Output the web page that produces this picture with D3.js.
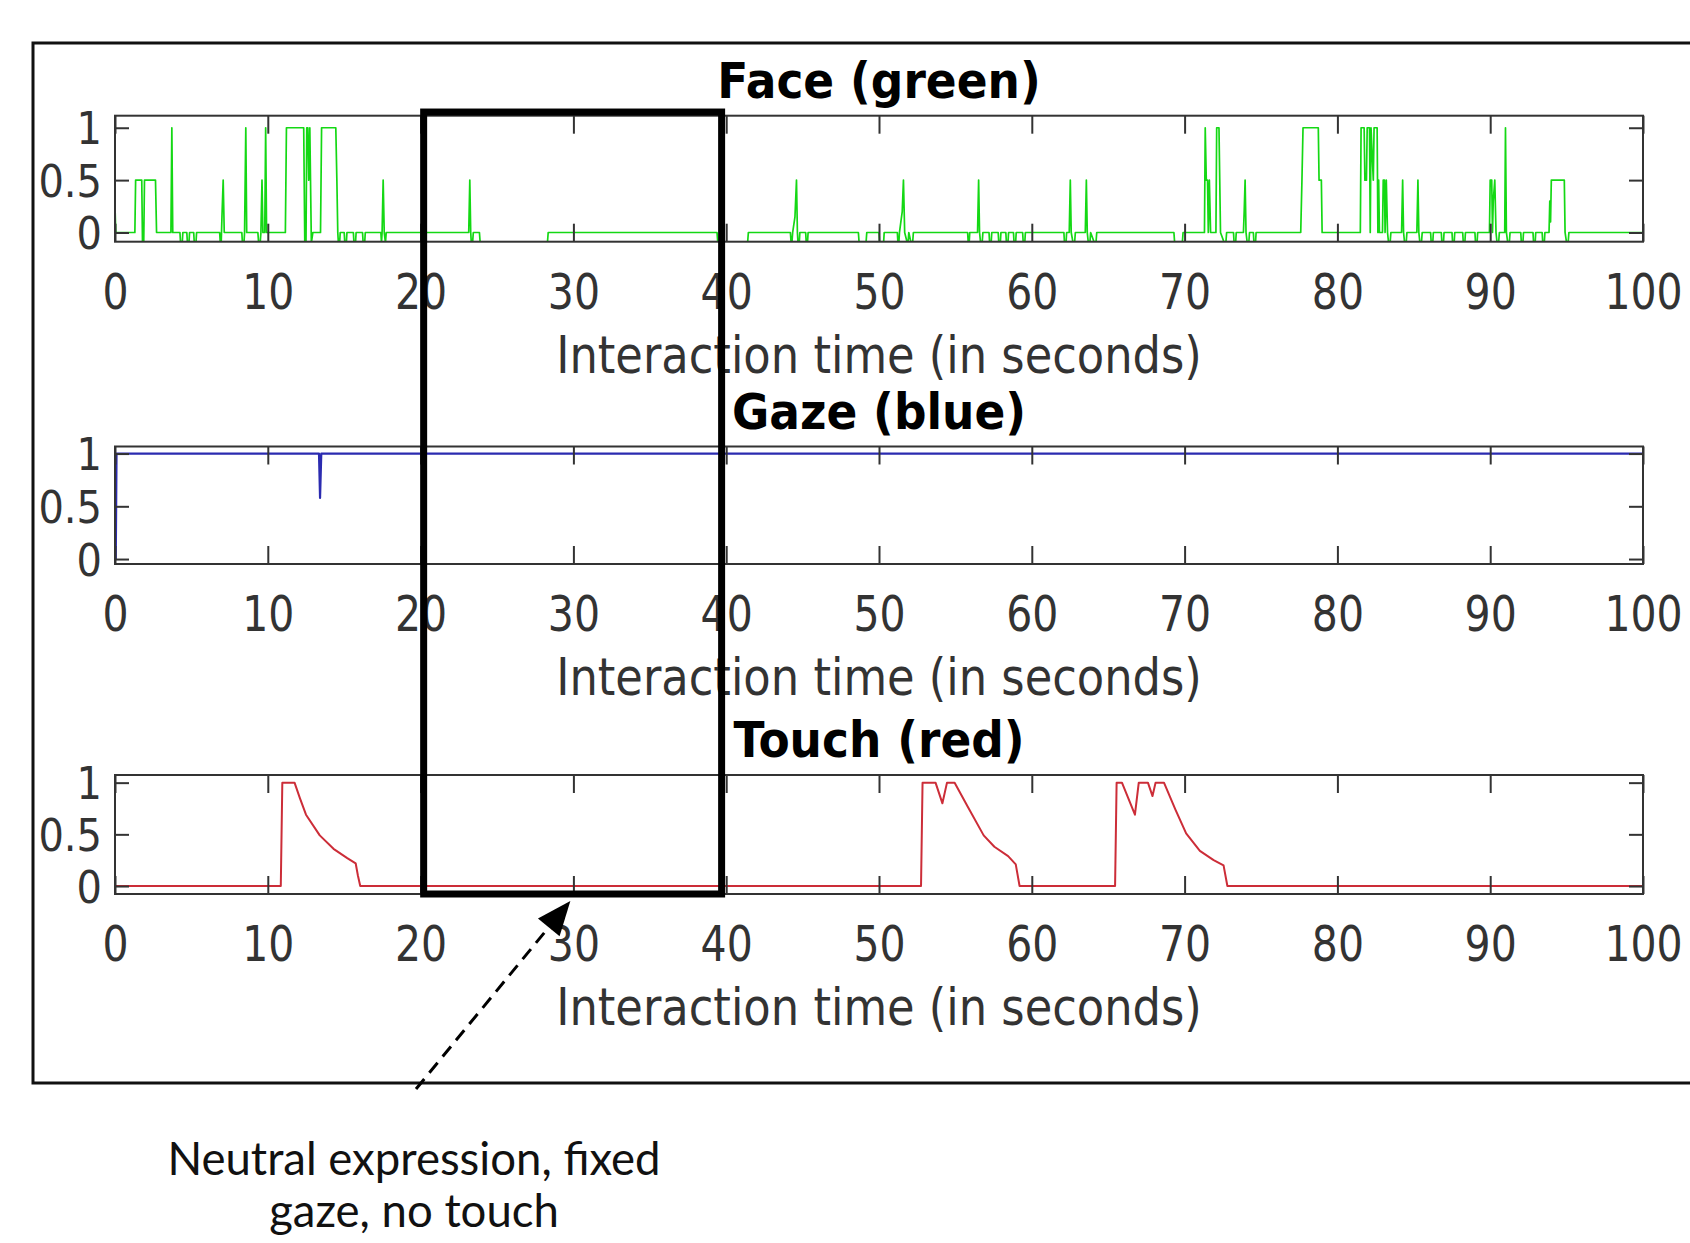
<!DOCTYPE html>
<html lang="en">
<head>
<meta charset="UTF-8">
<title>Face / Gaze / Touch</title>
<style>
  body { margin: 0; background: #fff; }
  svg { display: block; }
</style>
</head>
<body>
<div id="chart"></div>
<script src="https://cdn.jsdelivr.net/npm/d3@7"></script>
<script>
const width = 1690, height = 1243;

// axis labels / ticks
const xTicks = [0, 10, 20, 30, 40, 50, 60, 70, 80, 90, 100];
const yTicks = [0, 0.5, 1];
const titles = ["Face (green)", "Gaze (blue)", "Touch (red)"];
const xLabel = "Interaction time (in seconds)";
const yLimits = [[-0.088, 1.115], [-0.047, 1.067], [-0.077, 1.074]];

// [seconds, value]  (-0.1 = nothing detected)
const faceSeries = [
    [0, 0.25], [0.05, 0],
    [1.3, 0], [1.35, 0.5], [1.75, 0.5], [1.8, -0.1], [1.88, -0.1], [1.93, 0.5], [2.65, 0.5], [2.72, 0],
    [3.66, 0], [3.72, 1], [3.78, 0],
    [4.25, 0], [4.29, -0.1], [4.4, -0.1], [4.44, 0],
    [4.7, 0], [4.74, -0.1], [4.84, -0.1], [4.88, 0],
    [5.15, 0], [5.19, -0.1], [5.3, -0.1], [5.34, 0],
    [6.85, 0], [6.89, -0.1], [6.95, -0.1], [7.0, 0.15], [7.08, 0.5], [7.15, 0],
    [8.3, 0], [8.34, -0.1], [8.44, -0.1], [8.48, 0], [8.56, 1], [8.62, 0],
    [9.35, 0], [9.4, -0.1], [9.5, -0.1], [9.55, 0], [9.62, 0.5], [9.68, 0], [9.8, 0], [9.86, 1], [9.92, 0],
    [11.15, 0], [11.22, 1], [12.35, 1], [12.42, -0.1], [12.5, -0.1], [12.55, 1], [12.62, 1], [12.68, 0.5],
    [12.75, 1], [12.85, -0.1], [12.95, 0],
    [13.45, 0], [13.52, 1], [14.45, 1], [14.52, 0.5], [14.58, 0], [14.62, -0.1], [14.7, -0.1], [14.74, 0],
    [15.0, 0], [15.04, -0.1], [15.14, -0.1], [15.18, 0],
    [15.6, 0], [15.64, -0.1], [15.74, -0.1], [15.78, 0],
    [16.2, 0], [16.24, -0.1], [16.34, -0.1], [16.38, 0],
    [17.4, 0], [17.44, -0.1], [17.48, 0], [17.55, 0.5], [17.62, 0], [17.7, -0.1], [17.75, 0],
    [23.15, 0], [23.22, 0.5], [23.28, 0], [23.32, -0.1], [23.4, -0.1], [23.45, 0],
    [23.85, 0], [23.9, -0.1], [28.3, -0.1], [28.35, 0],
    [39.4, 0], [39.45, -0.1], [41.4, -0.1], [41.45, 0],
    [44.2, 0], [44.25, -0.1], [44.3, -0.1], [44.35, 0], [44.5, 0.15], [44.6, 0.5], [44.66, 0],
    [44.7, -0.1], [44.78, -0.1], [44.82, 0],
    [45.2, 0], [45.24, -0.1], [45.32, -0.1], [45.36, 0],
    [48.65, 0], [48.7, -0.1], [49.15, -0.1], [49.2, 0],
    [50.0, 0], [50.04, -0.1], [50.3, -0.1], [50.34, 0],
    [51.2, 0], [51.24, -0.1], [51.3, -0.1], [51.34, 0], [51.52, 0.2], [51.6, 0.5], [51.68, 0],
    [51.85, -0.1], [51.9, -0.1], [51.95, 0], [52.1, -0.1], [52.2, -0.1], [52.25, 0],
    [55.8, 0], [55.84, -0.1], [55.9, -0.1], [55.94, 0],
    [56.45, 0], [56.52, 0.5], [56.58, 0], [56.65, -0.1], [56.75, -0.1], [56.8, 0],
    [57.2, 0], [57.24, -0.1], [57.34, -0.1], [57.38, 0],
    [57.8, 0], [57.84, -0.1], [57.94, -0.1], [57.98, 0],
    [58.3, 0], [58.34, -0.1], [58.44, -0.1], [58.48, 0],
    [58.8, 0], [58.84, -0.1], [58.94, -0.1], [58.98, 0],
    [59.4, 0], [59.44, -0.1], [59.54, -0.1], [59.58, 0],
    [62.1, 0], [62.14, -0.1], [62.24, -0.1], [62.28, 0], [62.45, 0], [62.52, 0.5], [62.58, 0],
    [62.7, -0.1], [62.8, -0.1], [62.85, 0],
    [63.5, 0], [63.57, 0.5], [63.63, 0], [63.7, -0.1], [63.8, -0.1], [63.85, 0],
    [64.1, -0.1], [64.2, -0.1], [64.25, 0],
    [69.3, 0], [69.35, -0.1], [69.85, -0.1], [69.9, 0],
    [71.3, 0], [71.35, 1], [71.42, 0.5], [71.5, 0.5], [71.55, 0], [71.62, 0.5], [71.7, 0],
    [72.05, 0], [72.1, 1], [72.25, 1], [72.3, 0.5], [72.35, 0],
    [72.6, -0.1], [72.7, -0.1], [72.75, 0],
    [73.2, 0], [73.24, -0.1], [73.34, -0.1], [73.38, 0],
    [73.85, 0], [73.9, 0.2], [73.96, 0.5], [74.02, 0], [74.1, -0.1], [74.2, -0.1], [74.25, 0],
    [74.5, 0], [74.54, -0.1], [74.64, -0.1], [74.68, 0],
    [77.6, 0], [77.68, 0.5], [77.75, 1], [78.75, 1], [78.8, 0.5], [78.95, 0.5], [79.0, 0],
    [81.5, 0], [81.55, 1], [81.75, 1], [81.8, 0.5], [81.9, 0.5], [81.95, 1], [82.1, 1], [82.15, 0],
    [82.2, 1], [82.35, 0.5], [82.4, 1], [82.6, 1], [82.65, 0], [82.7, 0.5], [82.75, 0],
    [82.95, 0], [83.0, 0.5], [83.08, 0.5], [83.12, 0], [83.2, 0.5], [83.28, 0],
    [83.35, -0.1], [83.45, -0.1], [83.5, 0],
    [84.2, 0], [84.27, 0.5], [84.33, 0], [84.4, -0.1], [84.5, -0.1], [84.55, 0],
    [85.2, 0], [85.27, 0.5], [85.33, 0], [85.4, -0.1], [85.5, -0.1], [85.55, 0],
    [86.1, 0], [86.14, -0.1], [86.24, -0.1], [86.28, 0],
    [86.8, 0], [86.84, -0.1], [86.94, -0.1], [86.98, 0],
    [87.5, 0], [87.54, -0.1], [87.64, -0.1], [87.68, 0],
    [88.2, 0], [88.24, -0.1], [88.34, -0.1], [88.38, 0],
    [89.0, 0], [89.04, -0.1], [89.14, -0.1], [89.18, 0],
    [89.95, 0], [90.0, 0.5], [90.1, 0.5], [90.15, 0], [90.2, 0.3], [90.3, 0.5], [90.38, 0],
    [90.45, -0.1], [90.55, -0.1], [90.6, 0],
    [90.95, 0], [91.0, 1], [91.06, 0], [91.15, -0.1], [91.25, -0.1], [91.3, 0],
    [92.0, 0], [92.04, -0.1], [92.14, -0.1], [92.18, 0],
    [92.8, 0], [92.84, -0.1], [92.94, -0.1], [92.98, 0],
    [93.4, 0], [93.44, -0.1], [93.54, -0.1], [93.58, 0],
    [93.85, 0], [93.9, 0.3], [93.95, 0.1], [94.0, 0.5], [94.85, 0.5], [94.9, 0],
    [95.0, -0.1], [95.1, -0.1], [95.15, 0],
    [100, 0]
];

const gazeSeries = [
    [0, 0], [0.05, 0], [0.1, 1], [13.35, 1], [13.42, 0.58], [13.5, 1], [100, 1]
];

const touchSeries = [
    [0, 0], [10.85, 0], [10.95, 1], [11.75, 1], [12.1, 0.85], [12.5, 0.69], [13.4, 0.49],
    [14.3, 0.36], [15.2, 0.27], [15.75, 0.22], [15.9, 0.1], [16.05, 0],
    [52.75, 0], [52.85, 1], [53.7, 1], [54.15, 0.8], [54.45, 1], [54.95, 1], [55.8, 0.77],
    [56.85, 0.49], [57.55, 0.38], [58.45, 0.29], [58.95, 0.21], [59.2, 0],
    [65.45, 0], [65.55, 1], [65.9, 1], [66.75, 0.69], [67.0, 1], [67.6, 1], [67.9, 0.87],
    [68.1, 1], [68.65, 1], [69.4, 0.74], [70.1, 0.51], [71.0, 0.34], [71.9, 0.25],
    [72.55, 0.2], [72.8, 0], [100, 0]
];

const highlight = [20.2, 39.7];      // seconds
const arrowFrom = 19.7, arrowTo = 29.8;
const note = ["Neutral expression, fixed", "gaze, no touch"];

// ---------------------------------------------------------------
const left = 115, right = 1643;
const frame = {x: 33, y: 43, bottom: 1083};
const panels = [
    {top: 115.7, bottom: 241.7, data: faceSeries, color: "#14d814", lw: 1.7},
    {top: 446.5, bottom: 564, data: gazeSeries, color: "#2b2bb0", lw: 2.2},
    {top: 775, bottom: 894, data: touchSeries, color: "#cc2d38", lw: 2}
];
const axisColor = "#333";
const font = "'DejaVu Sans', sans-serif";

let svg = d3.select("#chart")
    .append("svg")
    .attr("width", width)
    .attr("height", height)
    .style("background-color", "#fff");

// outer frame (runs off the right edge)
svg.append("rect")
    .attr("x", frame.x)
    .attr("y", frame.y)
    .attr("width", width + 20 - frame.x)
    .attr("height", frame.bottom - frame.y)
    .attr("fill", "none")
    .attr("stroke", "#111")
    .attr("stroke-width", 3);

let x = d3.scaleLinear().domain([0, 100]).range([left, right]);
let yScales = [];

panels.forEach((p, i) => {
    let y = d3.scaleLinear().domain(yLimits[i]).range([p.bottom, p.top]);
    yScales.push(y);

    let g = svg.append("g").classed("panel", true);

    g.append("clipPath")
        .attr("id", "clip" + i)
        .append("rect")
        .attr("x", left)
        .attr("y", p.top)
        .attr("width", right - left)
        .attr("height", p.bottom - p.top);

    g.append("path")
        .datum(p.data)
        .attr("clip-path", `url(#clip${i})`)
        .attr("fill", "none")
        .attr("stroke", p.color)
        .attr("stroke-width", p.lw)
        .attr("stroke-linejoin", "round")
        .attr("d", d3.line().x(d => x(d[0])).y(d => y(d[1])));

    // ticks on all four sides, pointing inward
    let bottomAxis = g.append("g")
        .attr("transform", `translate(0,${p.bottom})`)
        .call(d3.axisBottom(x).tickValues(xTicks).tickSize(-18).tickSizeOuter(0));
    let topAxis = g.append("g")
        .attr("transform", `translate(0,${p.top})`)
        .call(d3.axisTop(x).tickValues(xTicks).tickSize(-18).tickSizeOuter(0).tickFormat(""));
    let leftAxis = g.append("g")
        .attr("transform", `translate(${left},0)`)
        .call(d3.axisLeft(y).tickValues(yTicks).tickSize(-14).tickSizeOuter(0).tickFormat(d => String(d)));
    let rightAxis = g.append("g")
        .attr("transform", `translate(${right},0)`)
        .call(d3.axisRight(y).tickValues(yTicks).tickSize(-14).tickSizeOuter(0).tickFormat(""));

    [bottomAxis, topAxis, leftAxis, rightAxis].forEach(a => {
        a.select(".domain").remove();
        a.selectAll("line").attr("stroke", axisColor).attr("stroke-width", 2);
        a.attr("font-family", font).attr("font-size", 41);
    });

    bottomAxis.selectAll("text")
        .attr("y", 0)
        .attr("dy", null)
        .attr("fill", axisColor)
        .attr("transform", "translate(0,67) scale(1,1.22)");

    leftAxis.attr("font-size", 40);
    leftAxis.selectAll("text")
        .attr("x", 0)
        .attr("dy", "0.3645em")
        .attr("fill", axisColor)
        .attr("text-anchor", "end")
        .attr("transform", "translate(-13,0) scale(1,1.1)");

    g.append("rect")
        .attr("x", left)
        .attr("y", p.top)
        .attr("width", right - left)
        .attr("height", p.bottom - p.top)
        .attr("fill", "none")
        .attr("stroke", axisColor)
        .attr("stroke-width", 2);

    g.append("text")
        .attr("transform", `translate(${(left + right) / 2},${p.top - 18}) scale(1,1.1)`)
        .attr("text-anchor", "middle")
        .attr("font-family", font)
        .attr("font-weight", "bold")
        .attr("font-size", 45.5)
        .attr("fill", "#000")
        .text(titles[i]);

    g.append("text")
        .attr("transform", `translate(${(left + right) / 2},${p.bottom + 131}) scale(1,1.14)`)
        .attr("text-anchor", "middle")
        .attr("font-family", font)
        .attr("font-size", 44.8)
        .attr("fill", axisColor)
        .text(xLabel);
});

// highlighted interval across the three panels
svg.append("rect")
    .attr("x", x(highlight[0]))
    .attr("y", yScales[0](1.15))
    .attr("width", x(highlight[1]) - x(highlight[0]))
    .attr("height", panels[2].bottom - yScales[0](1.15))
    .attr("fill", "none")
    .attr("stroke", "#000")
    .attr("stroke-width", 7);

// dashed arrow
let x0 = x(arrowFrom), y0 = frame.bottom + 6,
    x1 = x(arrowTo), y1 = panels[2].bottom + 7;
let len = Math.hypot(x1 - x0, y1 - y0),
    ux = (x1 - x0) / len, uy = (y1 - y0) / len,
    headLen = 34, headHalf = 14;
let bx = x1 - ux * headLen, by = y1 - uy * headLen;

svg.append("line")
    .attr("x1", x0).attr("y1", y0)
    .attr("x2", bx).attr("y2", by)
    .attr("stroke", "#000")
    .attr("stroke-width", 3)
    .attr("stroke-dasharray", "13,8");

svg.append("path")
    .attr("d", d3.line()([
        [x1, y1],
        [bx - uy * headHalf, by + ux * headHalf],
        [bx + uy * headHalf, by - ux * headHalf]
    ]) + "Z")
    .attr("fill", "#000");

svg.append("g")
    .selectAll("text")
    .data(note)
    .join("text")
        .attr("x", x0 - 2)
        .attr("y", (d, i) => 1175 + i * 51.5)
        .attr("text-anchor", "middle")
        .attr("font-family", "Lato, 'Open Sans', sans-serif")
        .attr("font-size", 45.5)
        .attr("fill", "#111")
        .text(d => d);
</script>
</body>
</html>
